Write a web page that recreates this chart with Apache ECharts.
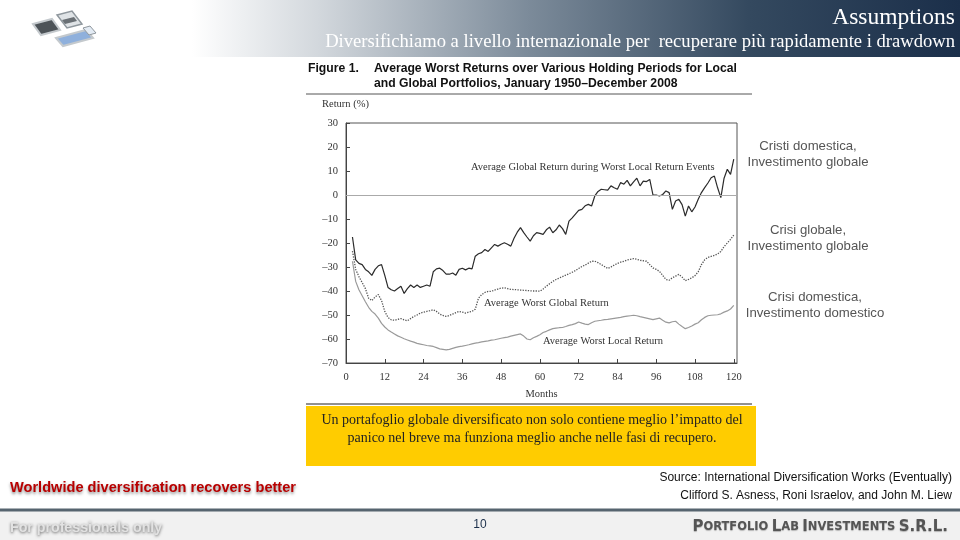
<!DOCTYPE html>
<html>
<head>
<meta charset="utf-8">
<title>Assumptions</title>
<script src="https://cdn.jsdelivr.net/npm/echarts/dist/echarts.min.js"></script>
<style>
html,body{margin:0;padding:0;background:#fff;}
#main{width:960px;height:540px;}
</style>
</head>
<body>
<div id="main"></div>
<script>
// mesi di detenzione (da 2 a 120)
var startMonth = 2;
var monthTicks = [0, 12, 24, 36, 48, 60, 72, 84, 96, 108, 120];
var returnTicks = [30, 20, 10, 0, -10, -20, -30, -40, -50, -60, -70];

// Average Global Return during Worst Local Return Events
var globalDuringLocal = [
	-17.5, -27, -28.5, -29, -31, -32, -33.5, -31, -29.5, -29,
	-33.5, -38.5, -39.5, -40, -39, -38, -41, -39, -37.5, -38.5,
	-37.5, -38.5, -38, -37.5, -38, -32, -30.8, -30.5, -31.5, -33,
	-33, -32.5, -33.4, -31, -30.5, -31.2, -30.5, -30.8, -25.5, -24.5,
	-24, -22.7, -23.5, -22, -20.6, -21.3, -20.5, -19.9, -20.5, -21.3,
	-18, -15.5, -13.6, -15.7, -17.5, -19.2, -17, -15.7, -16, -16.4,
	-14.5, -13.4, -15.7, -14.5, -12.5, -14, -16.4, -10.9, -9.5, -8,
	-6.4, -6, -4.5, -3.9, -4.6, -0.4, 1.5, 2.4, 2.2, 2,
	3.8, 3, 2.4, 5.2, 4.5, 6.1, 3.8, 5.5, 7, 3.8,
	5.8, 5.6, 6.5, 0, 0, -0.4, 0.2, 1.7, 1, -6,
	-2.5, -1.8, -4, -8.8, -4.6, -7, -5, -1.8, 1, 3.1,
	5, 7.2, 7.9, 3, -1.1, 7, 10.7, 8.6, 14.9
];
// Average Worst Global Return
var worstGlobal = [
	-23.4, -31, -34, -36.5, -39, -43, -44, -42.5, -41.5, -44,
	-48.5, -51, -52, -52.2, -51.8, -51.5, -52, -52.4, -51.5, -50.6,
	-50, -49.2, -48.8, -48.5, -48.2, -47.8, -48.5, -49.6, -50.2, -50.6,
	-50.2, -49.6, -49, -48.5, -48.8, -49.2, -48.8, -48.5, -47.6, -43,
	-41.5, -40.6, -40.2, -40.1, -39.6, -39.2, -38.8, -38.7, -39, -39.3,
	-39.4, -39.5, -39.6, -39.7, -39.8, -39.9, -40, -40, -40.1, -39.2,
	-38, -37, -36, -35.2, -34.6, -34, -33.4, -32.8, -32.2, -31.5,
	-30.6, -29.8, -29.2, -28.4, -27.6, -27.6, -28.2, -29, -29.8, -30.6,
	-30, -29.2, -28.5, -28, -27.6, -27.1, -26.8, -26.5, -26.8, -27.2,
	-27.4, -27.6, -29, -30.4, -31, -31.8, -33.5, -35.2, -35.5, -34.5,
	-33.8, -33.1, -34.2, -35.7, -35.2, -34.5, -33.6, -32, -29, -27,
	-26, -25.6, -25.2, -24.6, -23.5, -21.5, -20, -18.5, -16.7
];
// Average Worst Local Return
var worstLocal = [
	-27.6, -36, -39.5, -42, -44.5, -46.8, -48.5, -49.6, -51.3, -53.5,
	-55, -56.2, -57.1, -57.9, -58.7, -59.3, -59.9, -60.4, -60.9, -61.3,
	-61.8, -62.1, -62.4, -62.7, -62.9, -63.1, -63.6, -64.1, -64.3, -64.5,
	-64.3, -63.9, -63.5, -63.2, -63, -62.7, -62.4, -62, -61.7, -61.5,
	-61.2, -61, -60.8, -60.5, -60.3, -60, -59.7, -59.4, -59.2, -58.8,
	-58.5, -58.2, -57.9, -58.8, -60, -60.3, -59.5, -58.9, -58.2, -57.3,
	-56.8, -56.2, -55.7, -55.5, -55.3, -55.2, -54.8, -54.3, -54, -53.6,
	-52.9, -53.4, -53.8, -54, -53.2, -52.6, -52.4, -52.2, -51.9, -51.8,
	-51.6, -51.4, -51.2, -51, -50.7, -50.5, -50.3, -50.1, -50.3, -50.7,
	-51, -51.3, -51.6, -51.9, -51.6, -51.3, -52.2, -53, -53.3, -52.8,
	-52.6, -53.8, -54.8, -55.7, -55.2, -54.6, -53.8, -53.2, -52, -51,
	-50.3, -50.1, -50, -49.9, -49.5, -48.8, -48.3, -47.5, -46
];

function toPairs(arr){
	var out = [];
	for(var i=0;i<arr.length;i++){
		out.push([startMonth+i, arr[i]]);
	}
	return out;
}

function loadChart(){
	var myChart = echarts.init(document.getElementById('main'));
	var serif = '"Liberation Serif", "DejaVu Serif", serif';
	var sans = '"Liberation Sans", Arial, sans-serif';
	var option = {
		backgroundColor: '#ffffff',
		animation: false,
		grid: {
			left: 346,
			top: 123,
			width: 391,
			height: 240,
			show: true,
			borderColor: '#555',
			borderWidth: 1
		},
		xAxis: {
			type: 'value',
			min: 0,
			max: 121,
			interval: 12,
			name: 'Months',
			nameLocation: 'middle',
			nameGap: 26,
			nameTextStyle: {fontFamily: serif, fontSize: 10.5, color: '#333'},
			axisLine: {show: true, onZero: false, lineStyle: {color: '#444'}},
			axisTick: {show: true, inside: true, length: 4, lineStyle: {color: '#444'}},
			axisLabel: {
				fontFamily: serif, fontSize: 10.5, color: '#333', margin: 9,
				showMaxLabel: false,
				formatter: function(v){ return monthTicks.indexOf(v) >= 0 ? String(v) : ''; }
			},
			splitLine: {show: false}
		},
		yAxis: {
			type: 'value',
			min: -70,
			max: 30,
			interval: 10,
			axisLine: {show: true, onZero: false, lineStyle: {color: '#444'}},
			axisTick: {show: true, inside: true, length: 4, lineStyle: {color: '#444'}},
			axisLabel: {
				fontFamily: serif, fontSize: 10.5, color: '#333', margin: 8,
				formatter: function(v){
					if(returnTicks.indexOf(v) < 0) return '';
					return v < 0 ? '\u2013' + Math.abs(v) : String(v);
				}
			},
			splitLine: {show: false}
		},
		series: [
			{
				name: 'Average Global Return during Worst Local Return Events',
				type: 'line',
				showSymbol: false,
				data: toPairs(globalDuringLocal),
				lineStyle: {color: '#2b2b2b', width: 1.2},
				z: 4,
				markLine: {
					silent: true,
					symbol: 'none',
					label: {show: false},
					lineStyle: {color: '#aaaaaa', width: 1, type: 'solid'},
					data: [{yAxis: 0}]
				}
			},
			{
				name: 'Average Worst Global Return',
				type: 'line',
				showSymbol: false,
				data: toPairs(worstGlobal),
				lineStyle: {color: '#555', width: 1.3, type: 'dotted'},
				z: 3
			},
			{
				name: 'Average Worst Local Return',
				type: 'line',
				showSymbol: false,
				data: toPairs(worstLocal),
				lineStyle: {color: '#9a9a9a', width: 1.2},
				z: 2
			}
		],
		graphic: [
			// intestazione
			{
				type: 'rect', shape: {x: 0, y: 0, width: 960, height: 57}, silent: true, z: 0,
				style: {
					fill: new echarts.graphic.LinearGradient(0, 0, 1, 0, [
						{offset: 0, color: '#ffffff'},
						{offset: 0.2, color: '#ffffff'},
						{offset: 0.33, color: '#d3d8dd'},
						{offset: 0.55, color: '#7c8b9a'},
						{offset: 0.78, color: '#34495f'},
						{offset: 1, color: '#1b2f4a'}
					])
				}
			},
			// logo
			{type: 'polygon', shape: {points: [[33,24],[52,19],[60,30],[41,35]]}, style: {fill: '#4d5358', stroke: '#c4c9cd', lineWidth: 2}},
			{type: 'polygon', shape: {points: [[57,15],[72,11],[82,24],[67,28]]}, style: {fill: '#dfe3e6', stroke: '#8f979d', lineWidth: 1.5}},
			{type: 'polygon', shape: {points: [[62,20],[74,17],[77,21],[65,24]]}, style: {fill: '#6a7075'}},
			{type: 'polygon', shape: {points: [[56,38],[86,30],[93,38],[63,46]]}, style: {fill: '#8fb0dc', stroke: '#c4c9cd', lineWidth: 2}},
			{type: 'polygon', shape: {points: [[83,28],[90,26],[96,33],[89,35]]}, style: {fill: '#e3ebf4', stroke: '#8f979d', lineWidth: 1}},
			{type: 'text', x: 955, y: 18, style: {text: 'Assumptions', font: '23.5px ' + serif, fill: '#ffffff', align: 'right', verticalAlign: 'middle'}},
			{type: 'text', x: 955, y: 42, style: {text: 'Diversifichiamo a livello internazionale per  recuperare pi\u00f9 rapidamente i drawdown', font: '18.6px ' + serif, fill: '#ffffff', align: 'right', verticalAlign: 'middle'}},
			// titolo figura
			{type: 'text', x: 308, y: 69, style: {text: 'Figure 1.', font: 'bold 12.2px ' + sans, fill: '#111', verticalAlign: 'middle'}},
			{type: 'text', x: 374, y: 69, style: {text: 'Average Worst Returns over Various Holding Periods for Local', font: 'bold 12.2px ' + sans, fill: '#111', verticalAlign: 'middle'}},
			{type: 'text', x: 374, y: 84, style: {text: 'and Global Portfolios, January 1950\u2013December 2008', font: 'bold 12.2px ' + sans, fill: '#111', verticalAlign: 'middle'}},
			{type: 'line', shape: {x1: 306, y1: 94, x2: 752, y2: 94}, style: {stroke: '#555', lineWidth: 1}},
			{type: 'text', x: 322, y: 104, style: {text: 'Return (%)', font: '10.5px ' + serif, fill: '#333', verticalAlign: 'middle'}},
			// etichette delle linee
			{type: 'text', x: 471, y: 167, z: 10, style: {text: 'Average Global Return during Worst Local Return Events', font: '10.5px ' + serif, fill: '#333', verticalAlign: 'middle'}},
			{type: 'text', x: 484, y: 303, z: 10, style: {text: 'Average Worst Global Return', font: '10.5px ' + serif, fill: '#333', verticalAlign: 'middle'}},
			{type: 'text', x: 543, y: 341, z: 10, style: {text: 'Average Worst Local Return', font: '10.5px ' + serif, fill: '#333', verticalAlign: 'middle'}},
			// riquadro giallo
			{type: 'line', shape: {x1: 306, y1: 404, x2: 752, y2: 404}, style: {stroke: '#222', lineWidth: 1}},
			{type: 'rect', shape: {x: 306, y: 406, width: 450, height: 60}, style: {fill: '#ffcc00'}},
			{type: 'text', x: 532, y: 420, style: {text: 'Un portafoglio globale diversificato non solo contiene meglio l\u2019impatto del', font: '14px ' + serif, fill: '#222', align: 'center', verticalAlign: 'middle'}},
			{type: 'text', x: 532, y: 438, style: {text: 'panico nel breve ma funziona meglio anche nelle fasi di recupero.', font: '14px ' + serif, fill: '#222', align: 'center', verticalAlign: 'middle'}},
			// legenda a destra
			{type: 'text', x: 808, y: 154, style: {text: 'Cristi domestica,\nInvestimento globale', font: '13.2px ' + sans, fill: '#555', align: 'center', verticalAlign: 'middle', lineHeight: 16}},
			{type: 'text', x: 808, y: 238, style: {text: 'Crisi globale,\nInvestimento globale', font: '13.2px ' + sans, fill: '#555', align: 'center', verticalAlign: 'middle', lineHeight: 16}},
			{type: 'text', x: 815, y: 305, style: {text: 'Crisi domestica,\nInvestimento domestico', font: '13.2px ' + sans, fill: '#555', align: 'center', verticalAlign: 'middle', lineHeight: 16}},
			// fonte
			{type: 'text', x: 952, y: 478, style: {text: 'Source: International Diversification Works (Eventually)', font: '12px ' + sans, fill: '#111', align: 'right', verticalAlign: 'middle'}},
			{type: 'text', x: 952, y: 496, style: {text: 'Clifford S. Asness, Roni Israelov, and John M. Liew', font: '12px ' + sans, fill: '#111', align: 'right', verticalAlign: 'middle'}},
			{type: 'text', x: 10, y: 488, style: {text: 'Worldwide diversification recovers better', font: 'bold 14.6px ' + sans, fill: '#b80000', verticalAlign: 'middle', textShadowColor: 'rgba(0,0,0,0.45)', textShadowBlur: 3, textShadowOffsetY: 2}},
			// pie di pagina
			{type: 'rect', shape: {x: 0, y: 511, width: 960, height: 29}, style: {fill: '#f1f1f1'}},
			{type: 'line', shape: {x1: 0, y1: 510, x2: 960, y2: 510}, style: {stroke: '#56646f', lineWidth: 3}},
			{type: 'text', x: 10, y: 528, style: {text: 'For professionals only', font: 'bold 14.2px ' + sans, fill: '#e2e2e2', verticalAlign: 'middle', textShadowColor: 'rgba(0,0,0,0.6)', textShadowBlur: 3, textShadowOffsetY: 1}},
			{type: 'text', x: 480, y: 525, style: {text: '10', font: '12px ' + sans, fill: '#1b2f4a', align: 'center', verticalAlign: 'middle'}},
			{
				type: 'text', x: 948, y: 527,
				style: {
					text: '{b|P}{s|ORTFOLIO} {b|L}{s|AB} {b|I}{s|NVESTMENTS} {b|S.R.L.}',
					align: 'right', verticalAlign: 'middle', fill: '#555',
					textShadowColor: 'rgba(0,0,0,0.25)', textShadowBlur: 1, textShadowOffsetY: 1,
					rich: {
						b: {font: 'bold 15px "DejaVu Sans", sans-serif', fill: '#555'},
						s: {font: 'bold 11.5px "DejaVu Sans", sans-serif', fill: '#555'}
					}
				}
			}
		]
	};
	myChart.setOption(option);
}
loadChart();
</script>
</body>
</html>
